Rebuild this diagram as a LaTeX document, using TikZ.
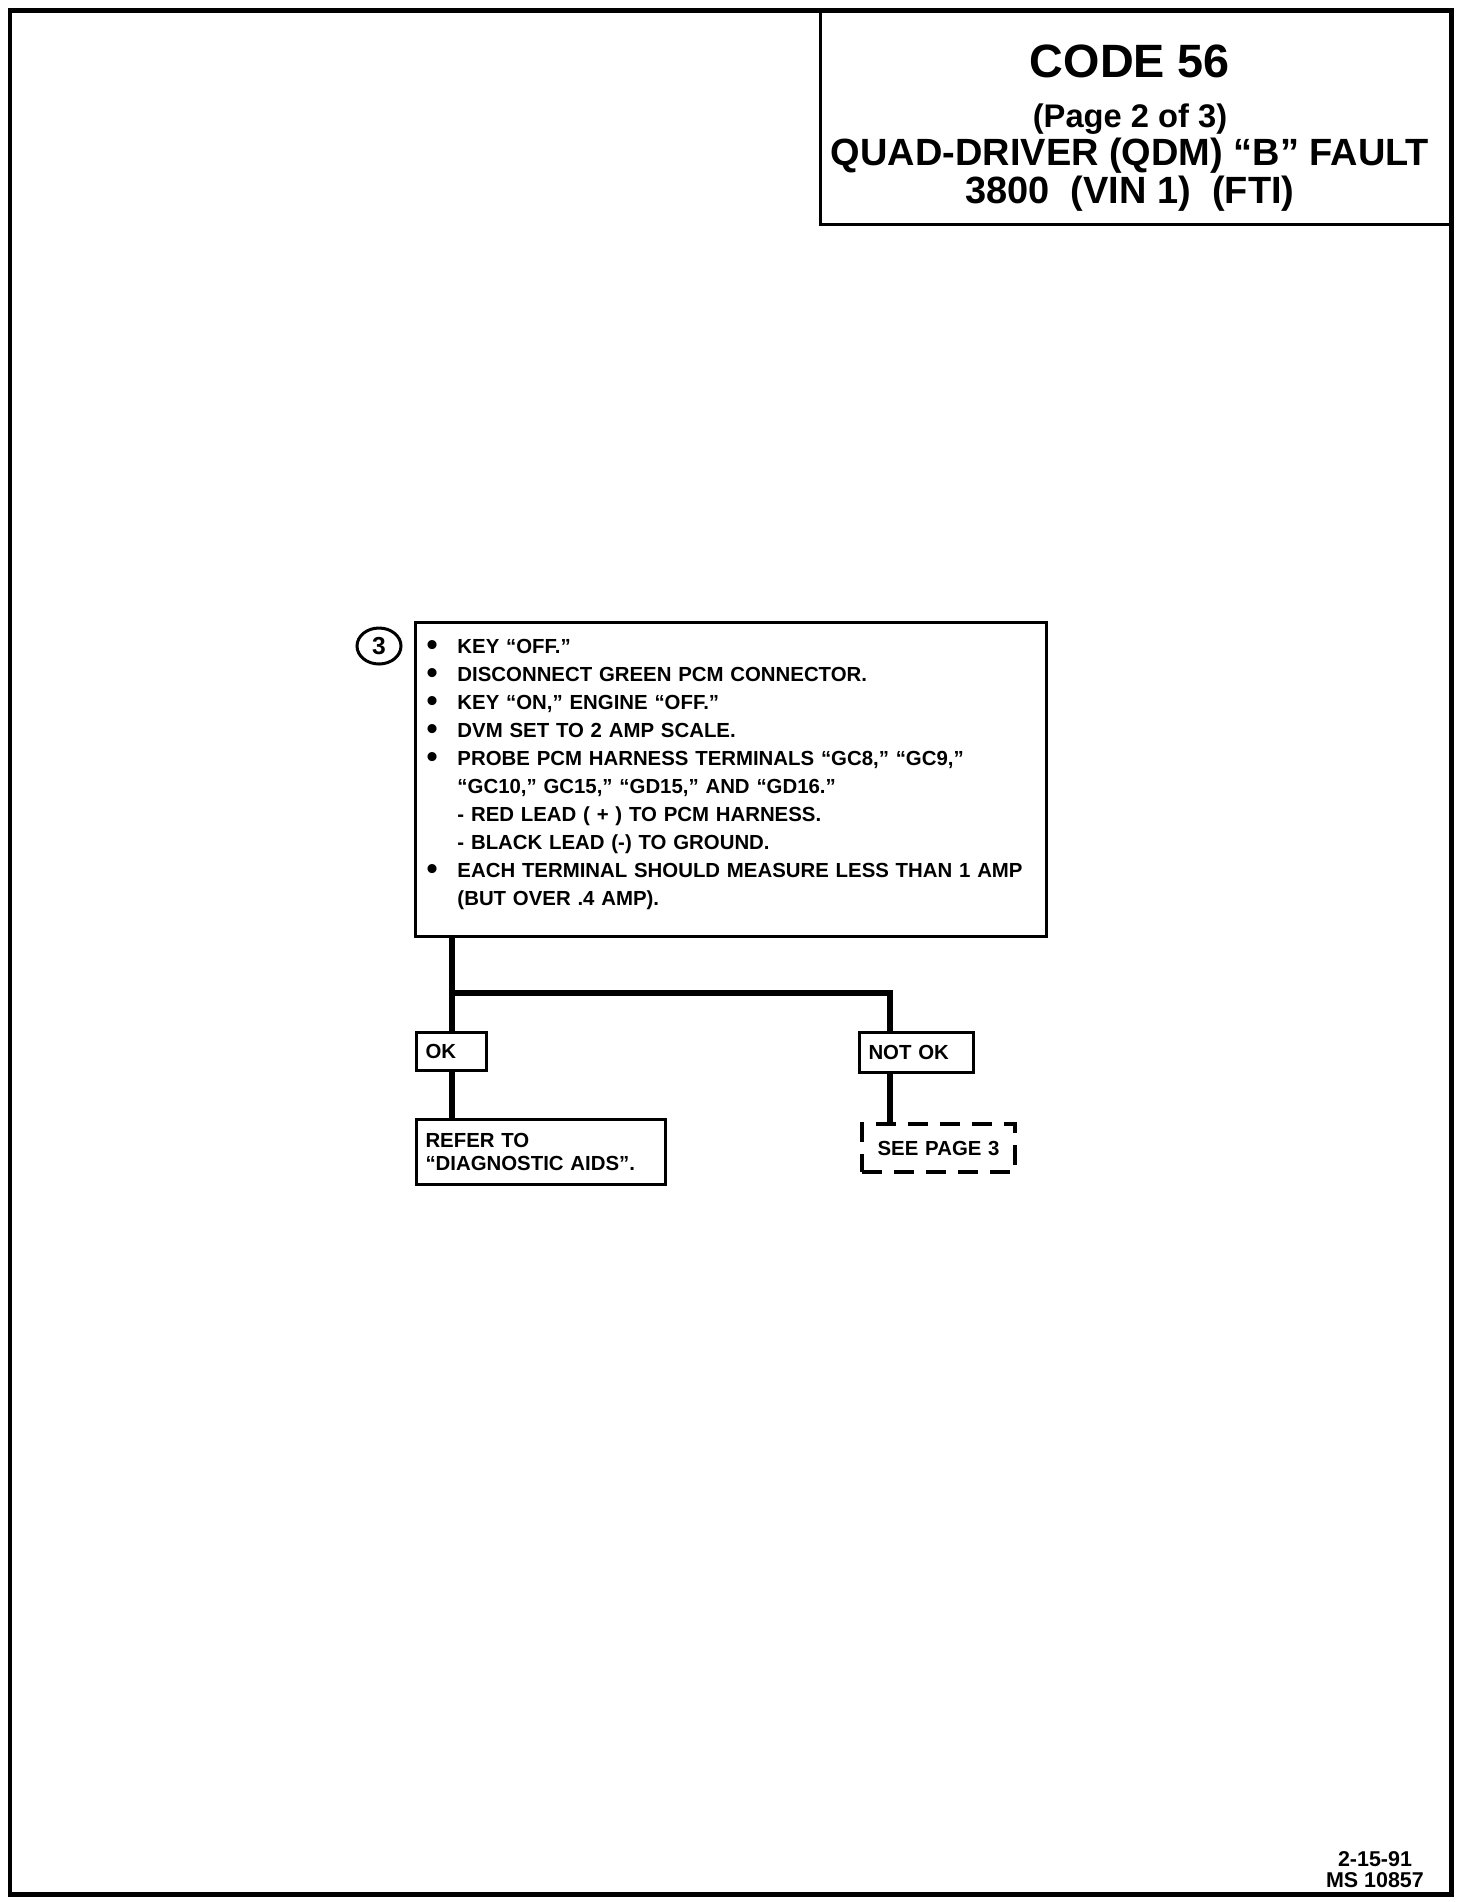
\documentclass[tikz,border=0pt]{standalone}
\usepackage{fontspec}
\setmainfont{Liberation Sans}
\usetikzlibrary{positioning, calc, shapes.geometric}

\newcommand\bodyfont{\fontsize{5.8}{7.97}\selectfont\bfseries}
\newcommand\stampfont{\fontsize{6.1}{6}\selectfont\bfseries}
\newcommand\stepdot{{\fontsize{9}{8}\selectfont\raisebox{-0.8pt}{•}}}

\begin{document}
\begin{tikzpicture}[x=0.1mm, y=-0.1mm,
    flowbox/.style={draw, line width=0.3mm, anchor=north west, inner xsep=0.9mm,
                    inner ysep=0pt, align=left, font=\bodyfont},
    flowline/.style={line width=0.6mm},
    titletext/.style={font=\fontsize{#1}{#1}\selectfont\bfseries, inner sep=0pt},
  ]
    \useasboundingbox (0,0) rectangle (1472,1902);

    % --- Page frame and title block ---
    \draw[line width=0.5mm] (10,10) rectangle (1451,1894);
    \draw[line width=0.3mm] (820,10) -- (820,224) -- (1451,224);
    \node[titletext=13.3] (code)   at (1130,61)  {CODE 56};
    \node[titletext=9.3]  (page)   at (1130,119) {(Page 2 of 3)};
    \node[titletext=10.8] (fault)  at (1130,156) {QUAD-DRIVER (QDM) “B” FAULT};
    \node[titletext=10.8] (engine) at (1130,194) {3800\ \ (VIN 1)\ \ (FTI)};

    % --- Step 3 ---
    \node[ellipse, draw, line width=0.3mm, minimum width=4.4mm, minimum height=3.6mm,
          inner sep=0pt, font=\fontsize{7}{7}\selectfont\bfseries] (stepnum) at (379,646) {3};
    \node[flowbox, inner xsep=1.1mm, text width=60.9mm, minimum height=31.4mm]
        (step3) at (414,621) {%
        \begin{tabular}{@{}p{3.1mm}@{}l@{}}
            \stepdot & KEY “OFF.”\\
            \stepdot & DISCONNECT GREEN PCM CONNECTOR.\\
            \stepdot & KEY “ON,” ENGINE “OFF.”\\
            \stepdot & DVM SET TO 2 AMP SCALE.\\
            \stepdot & PROBE PCM HARNESS TERMINALS “GC8,” “GC9,”\\
                     & “GC10,” GC15,” “GD15,” AND “GD16.”\\
                     & - RED LEAD ( + ) TO PCM HARNESS.\\
                     & - BLACK LEAD (-) TO GROUND.\\
            \stepdot & EACH TERMINAL SHOULD MEASURE LESS THAN 1 AMP\\
                     & (BUT OVER .4 AMP).\\[1.2mm]
        \end{tabular}};

    % --- Outcomes ---
    \node[flowbox, text width=5.2mm,  minimum height=3.8mm] (ok)    at (415,1031) {OK};
    \node[flowbox, text width=9.6mm,  minimum height=4.0mm] (notok) at (858,1031) {NOT OK};
    \node[flowbox, text width=23.1mm, minimum height=6.5mm,
          font=\fontsize{5.8}{6.5}\selectfont\bfseries] (refer) at (415,1118)
        {REFER TO\\“DIAGNOSTIC AIDS”.};
    \node[flowbox, align=center, text width=13.5mm, minimum height=4.8mm,
          line width=0.42mm, dash pattern=on 2.0mm off 1.2mm] (seep3) at (860,1122)
        {SEE PAGE 3};

    % --- Connectors ---
    \coordinate (split) at (451,993);
    \coordinate (notokin) at ($(notok.north west)+(32,0)$);
    \draw[flowline] (step3.south -| ok.north) -- (ok.north);
    \draw[flowline] (split) -| (notokin);
    \draw[flowline] (ok.south) -- (ok.south |- refer.north);
    \draw[flowline] (notokin |- notok.south) -- (notokin |- seep3.north);

    % --- Stamp ---
    \node[font=\stampfont, align=center, inner sep=0pt] (stamp) at (1375,1870)
        {2-15-91\\MS 10857};
\end{tikzpicture}
\end{document}
